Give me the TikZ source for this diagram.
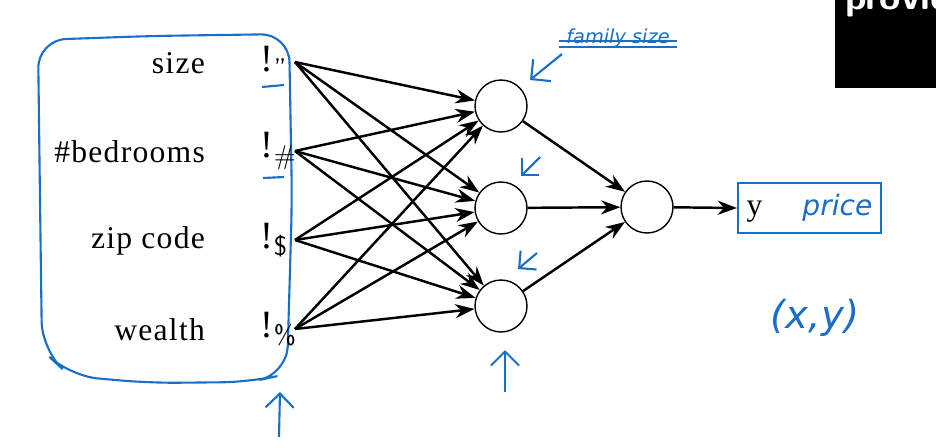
\documentclass[tikz,border=0pt]{standalone}
\usepackage{fontspec}
\setmainfont{Liberation Serif}
\newfontfamily\handfont{DejaVu Sans}
\usepackage{xcolor}
\usepackage{tikz}
\usetikzlibrary{shapes,arrows,positioning,calc,arrows.meta}
\definecolor{handblue}{RGB}{25,110,200}

\begin{document}
\begin{tikzpicture}[x=0.02cm, y=-0.02cm, line width=1.4pt,
    neuron/.style={circle, draw, line width=0.8pt, minimum size=1.04cm},
    feat/.style={anchor=east, font=\fontsize{18}{20}\selectfont\addfontfeature{LetterSpace=4}},
    xin/.style={anchor=west, inner sep=1pt, text width=0.62cm, font=\fontsize{22}{24}\selectfont},
    ink/.style={handblue, line width=1.2pt},
    note/.style={handblue, font=\handfont\itshape},
    edge/.style={-{Stealth[length=11pt,width=8pt]}}]
    \useasboundingbox (0,0) rectangle (936,447);

    % Input Box
    \draw[ink, rounded corners=16pt] (38,40) -- (150,36) -- (289,34) -- (292,200) -- (287,374)
        -- (250,382) -- (150,383) -- (70,376) -- (42,350) -- (40,200) -- cycle;

    % Input Layer
    \foreach \t/\s [count=\i] in {size/{"}, \#bedrooms/\#, zip code/\$, wealth/\%}
    {
        \node[feat] (F\i) at (212,63+89*\i-89) {\t};
        \node[xin] (X\i) at (258,62+89*\i-89) {!\textsubscript{\sffamily\s}};
    }

    % Hidden Layer
    \foreach \h/\y in {1/106,2/208,3/306}
        \node[neuron] (H\h) at (501,\y) {};

    % Output Layer
    \node[neuron] (O) at (647,207) {};
    \node[anchor=west, draw=handblue, line width=1.2pt, minimum width=2.86cm, minimum height=1cm,
        align=left, font=\fontsize{18}{20}\selectfont] (Y) at (737,208)
        {y\hspace{0.8cm}{\color{handblue}\handfont\itshape\fontsize{16}{18}\selectfont price}};

    % Connections
    \foreach \i in {1,2,3,4}
        \foreach \h in {1,2,3}
            \draw[edge] (X\i.east) -- (H\h);
    \foreach \h in {1,2,3}
        \draw[edge] (H\h) -- (O);
    \draw[edge] (O) -- (Y.west);

    % Notes
    \draw[ink] (262,87) -- (284,85);
    \draw[ink] (263,178) -- (284,177);
    \node[note, font=\handfont\itshape\fontsize{11}{12}\selectfont] (fam) at (618,38) {family size};
    \draw[ink] ([yshift=-1.5pt]fam.west) -- ([yshift=-1.5pt]fam.east);
    \draw[ink] ([yshift=-5pt]fam.west) -- ([yshift=-5pt]fam.east);
    \coordinate (a1) at (562,54);
    \coordinate (a1e) at (530,80);
    \draw[ink, -{Straight Barb[length=8pt]}] (a1) -- (a1e);
    \draw[ink, -{Straight Barb[length=7pt]}] (540,157) -- (521,176);
    \draw[ink, -{Straight Barb[length=7pt]}] (537,253) -- (518,269);
    \draw[ink, -{Straight Barb[length=8pt]}] (505,392) -- (505,350);
    \draw[ink, -{Straight Barb[length=8pt]}] (279,437) -- (280,392);
    \node[note, font=\handfont\itshape\fontsize{22}{24}\selectfont] (xy) at (815,318) {(x,y)};

    % Slide corner
    \fill (835,0) rectangle (936,88);
    \begin{scope}
        \clip (835,0) rectangle (936,88);
        \node[anchor=base west, text=white, font=\sffamily\bfseries\fontsize{22}{22}\selectfont] (prov) at (838,9) {provide};
    \end{scope}
\end{tikzpicture}
\end{document}
